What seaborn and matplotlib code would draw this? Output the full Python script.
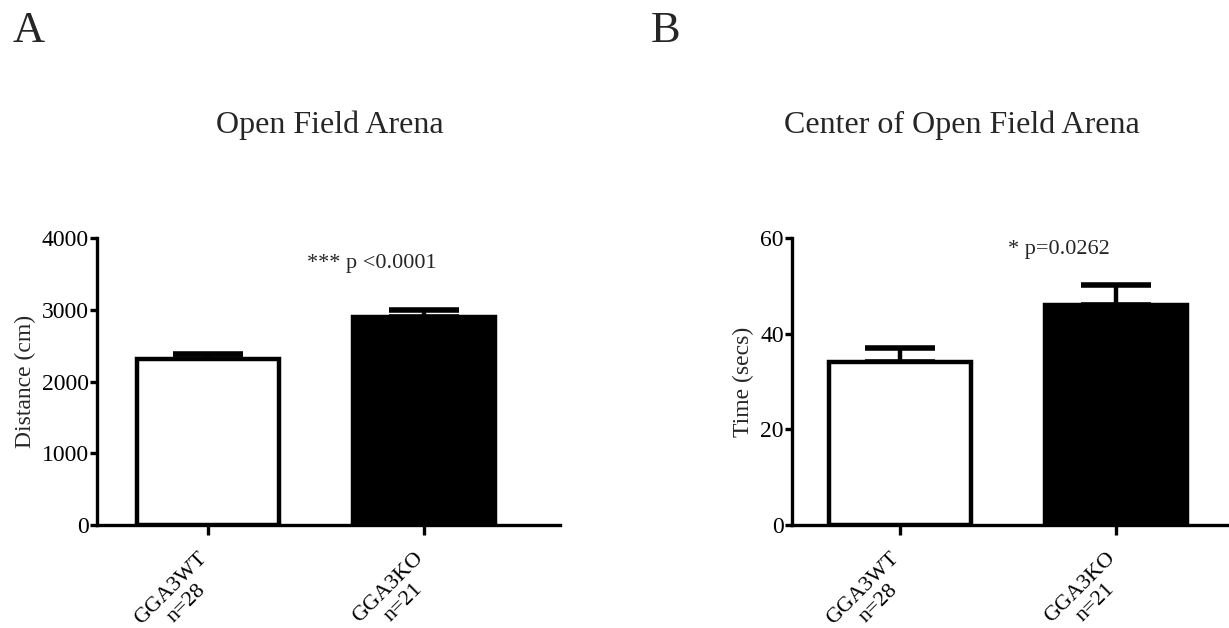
import matplotlib
matplotlib.use("Agg")
import matplotlib.pyplot as plt
import matplotlib.transforms as mtransforms
import seaborn as sns
import pandas as pd

categories = ["GGA3WT\nn=28", "GGA3KO\nn=21"]
distance_mean = [2310, 2900]
distance_sem = [70, 100]
time_mean = [34, 46]
time_sem = [3, 4.2]
bar_colors = ["white", "black"]

sns.set_theme(style="ticks")
plt.rcParams['font.family'] = ['Liberation Serif', 'DejaVu Serif']

fig = plt.figure(figsize=(12.29, 6.28), dpi=100)

axA = fig.add_axes([97 / 1229, 103 / 628, 463 / 1229, 287 / 628])
axB = fig.add_axes([792 / 1229, 103 / 628, 437 / 1229, 287 / 628])

def panel(ax, means, sems, ylim, yticks, ylabel, width, xlim, note, note_xy):
    df = pd.DataFrame({"group": categories, "value": means})
    sns.barplot(data=df, x="group", y="value", hue="group", palette=bar_colors,
                edgecolor="black", linewidth=3.2, width=width, legend=False,
                ax=ax, zorder=3)
    ax.errorbar(range(len(means)), means, yerr=[[0] * len(means), sems],
                fmt="none", ecolor="black", elinewidth=3.2, capsize=25,
                capthick=4, zorder=2)
    ax.set_ylim(*ylim)
    ax.set_yticks(yticks)
    ax.set_xlim(*xlim)
    ax.set_xlabel("")
    ax.set_ylabel(ylabel, fontsize=17, labelpad=4)
    for s in ["top", "right"]:
        ax.spines[s].set_visible(False)
    for s in ["left", "bottom"]:
        ax.spines[s].set_linewidth(2.4)
        ax.spines[s].set_color("black")
    ax.tick_params(axis="y", length=5, width=2.4, labelsize=17, pad=1, colors="black")
    ax.tick_params(axis="x", length=7, width=2.4, labelsize=16, pad=10, colors="black")
    ax.set_xticks(range(len(categories)))
    ax.set_xticklabels(categories, rotation=45, ha="right", va="top",
                       rotation_mode="anchor", multialignment="center")
    shift = mtransforms.ScaledTranslation(-0.10, 0, fig.dpi_scale_trans)
    for lab in ax.get_xticklabels():
        lab.set_transform(lab.get_transform() + shift)
    ax.text(note_xy[0], note_xy[1], note, fontsize=16, ha="center", va="center",
            transform=ax.transData)

panel(axA, distance_mean, distance_sem, (0, 4000), [0, 1000, 2000, 3000, 4000],
      "Distance (cm)", 0.66, (-0.514, 1.63), "*** p <0.0001", (0.76, 3650))
panel(axB, time_mean, time_sem, (0, 60), [0, 20, 40, 60],
      "Time (secs)", 0.66, (-0.5, 1.523), "* p=0.0262", (0.736, 57.5))

fig.text(330 / 1229, 1 - 125 / 628, "Open Field Arena", fontsize=23,
         ha="center", va="center")
fig.text(962 / 1229, 1 - 125 / 628, "Center of Open Field Arena", fontsize=23,
         ha="center", va="center")
fig.text(29 / 1229, 1 - 31 / 628, "A", fontsize=32, ha="center", va="center")
fig.text(666 / 1229, 1 - 31 / 628, "B", fontsize=32, ha="center", va="center")

fig.savefig("out.png", dpi=100)
